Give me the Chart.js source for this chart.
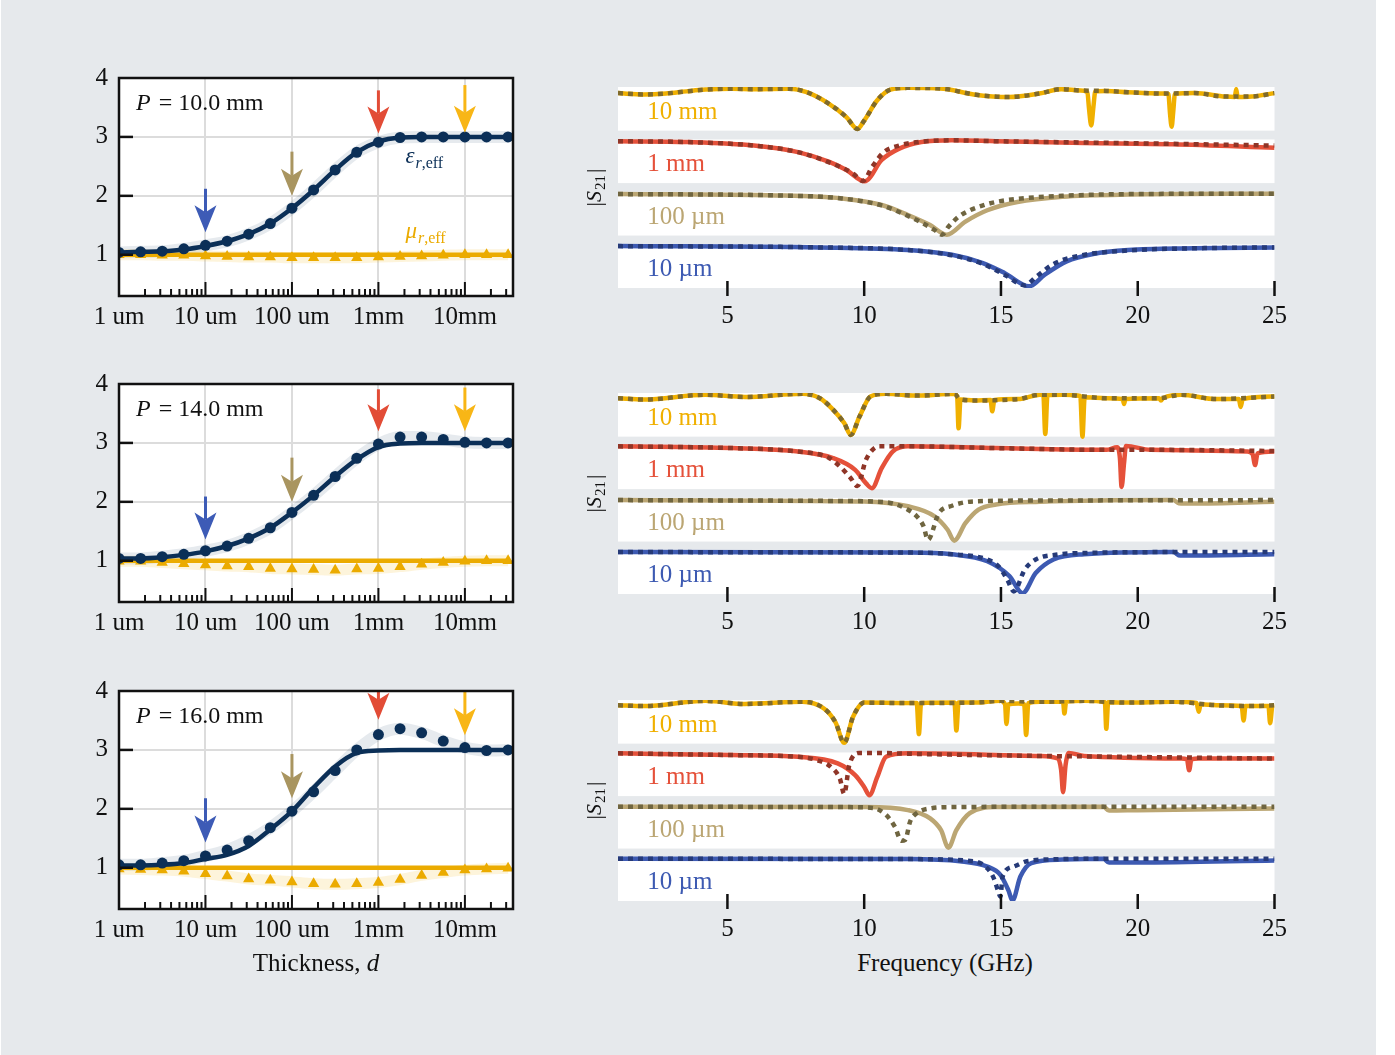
<!DOCTYPE html>
<html>
<head>
<meta charset="utf-8">
<script src="https://cdn.jsdelivr.net/npm/chart.js@4.4.1/dist/chart.umd.min.js"></script>
<style>
  body { margin: 0; background: #fff; width: 1395px; height: 1055px; position: relative; overflow: hidden; font-family: "Liberation Serif", serif; }
  #bg { position: absolute; left: 1px; top: 0; width: 1375px; height: 1055px; background: #e6e9ec; }
  .box { position: absolute; }
  .title { position: absolute; font-size: 25px; color: #111; transform: translateX(-50%); white-space: nowrap; }
</style>
</head>
<body>
<div id="bg"></div>

<div class="box" style="left:69px;top:52px;width:464px;height:289px"><canvas id="l10"></canvas></div>
<div class="box" style="left:69px;top:358px;width:464px;height:289px"><canvas id="l14"></canvas></div>
<div class="box" style="left:69px;top:665px;width:464px;height:289px"><canvas id="l16"></canvas></div>

<div class="box" style="left:570px;top:77px;width:730px;height:256px"><canvas id="r10"></canvas></div>
<div class="box" style="left:570px;top:383px;width:730px;height:256px"><canvas id="r14"></canvas></div>
<div class="box" style="left:570px;top:690px;width:730px;height:256px"><canvas id="r16"></canvas></div>

<div class="title" style="left:316px;top:949px">Thickness, <i>d</i></div>
<div class="title" style="left:945px;top:949px">Frequency (GHz)</div>

<script>
// ---------- left panels: effective parameters vs thickness ----------
const thickness = [1e-6, 1.78e-6, 3.16e-6, 5.62e-6, 1e-5, 1.78e-5, 3.16e-5, 5.62e-5, 1e-4,
  1.78e-4, 3.16e-4, 5.62e-4, 1e-3, 1.78e-3, 3.16e-3, 5.62e-3, 1e-2, 1.78e-2, 3.16e-2];
const decadeTicks = [1e-6, 1e-5, 1e-4, 1e-3, 1e-2];
const decadeLabels = ['1 um', '10 um', '100 um', '1mm', '10mm'];

const eps10    = [1.04, 1.05, 1.06, 1.10, 1.16, 1.23, 1.35, 1.53, 1.79, 2.10, 2.44, 2.74, 2.91, 2.99, 3.0, 3.0, 3.0, 3.0, 3.0];
const epsFit10 = [1.04, 1.05, 1.06, 1.09, 1.15, 1.23, 1.35, 1.53, 1.79, 2.10, 2.44, 2.74, 2.92, 2.99, 3.0, 3.0, 3.0, 3.0, 3.0];
const mu10     = [1.0, 1.0, 0.99, 0.99, 0.98, 0.97, 0.96, 0.96, 0.95, 0.95, 0.95, 0.95, 0.96, 0.97, 0.98, 0.99, 1.0, 1.0, 1.0];
const muFit10  = [1, 1, 1, 1, 1, 1, 1, 1, 1, 1, 1, 1, 1, 1, 1, 1, 1, 1, 1];

const eps14    = [1.04, 1.04, 1.07, 1.11, 1.17, 1.25, 1.38, 1.56, 1.82, 2.11, 2.43, 2.74, 2.98, 3.10, 3.10, 3.06, 3.01, 3.0, 3.0];
const epsFit14 = [1.04, 1.04, 1.06, 1.10, 1.16, 1.25, 1.38, 1.56, 1.82, 2.11, 2.43, 2.72, 2.93, 2.99, 3.0, 3.0, 3.0, 3.0, 3.0];
const mu14     = [0.99, 0.99, 0.97, 0.95, 0.93, 0.91, 0.90, 0.87, 0.86, 0.85, 0.84, 0.86, 0.87, 0.90, 0.94, 0.97, 0.99, 1.0, 1.0];
const muFit14  = [1, 1, 1, 1, 1, 1, 1, 1, 1, 1, 1, 1, 1, 1, 1, 1, 1, 1, 1];

const eps16    = [1.05, 1.05, 1.08, 1.12, 1.20, 1.30, 1.46, 1.68, 1.96, 2.29, 2.65, 3.00, 3.26, 3.36, 3.29, 3.15, 3.04, 2.99, 3.0];
const epsFit16 = [1.04, 1.04, 1.05, 1.08, 1.15, 1.22, 1.37, 1.65, 1.96, 2.36, 2.72, 2.95, 2.99, 3.0, 3.0, 3.0, 3.0, 3.0, 3.0];
const mu16     = [0.98, 0.97, 0.96, 0.94, 0.90, 0.86, 0.81, 0.79, 0.76, 0.73, 0.72, 0.73, 0.75, 0.80, 0.87, 0.92, 0.96, 0.98, 0.99];
const muFit16  = [1, 1, 1, 1, 1, 1, 1, 1, 1, 1, 1, 1, 1, 1, 1, 1, 1, 1, 1];

// arrows mark the four thicknesses shown on the right (10 um, 100 um, 1 mm, 10 mm)
const arrowAt = [1e-5, 1e-4, 1e-3, 1e-2];
const arrowTop10 = [2.12, 2.75, 3.79, 3.88], arrowTip10 = [1.38, 2.0, 3.06, 3.07];
const arrowTop14 = [2.09, 2.75, 3.91, 3.94], arrowTip14 = [1.36, 2.0, 3.20, 3.20];
const arrowTop16 = [2.18, 2.93, 4.05, 4.05], arrowTip16 = [1.43, 2.18, 3.51, 3.25];

// ---------- right panels: |S21| traces, [GHz, normalised |S21|] ----------
const freqTicks = [5, 10, 15, 20, 25];
const traceNames = ['10 µm', '100 µm', '1 mm', '10 mm'];   // bottom to top

const p10_10um = [[1,0.96],[8.38,0.93],[11.6,0.87],[13.21,0.76],[14.34,0.57],[15.14,0.34],[16.03,0.04],[16.59,0.30],[17.4,0.61],[18.37,0.78],[19.65,0.87],[22.07,0.91],[25,0.93]];
const p10_10um_m = [[1,0.96],[8.38,0.93],[11.6,0.87],[13.21,0.75],[14.34,0.55],[15.14,0.30],[15.87,0.06],[16.27,0.25],[16.92,0.55],[17.88,0.74],[19.65,0.86],[22.07,0.91],[25,0.93]];
const p10_100um = [[1,0.95],[6.77,0.92],[9.19,0.85],[10.64,0.70],[11.6,0.47],[12.41,0.24],[13.02,0.02],[13.7,0.32],[14.5,0.58],[15.6,0.77],[17.24,0.89],[19.65,0.94],[25,0.96]];
const p10_100um_m = [[1,0.95],[6.77,0.92],[9.19,0.85],[10.64,0.69],[11.6,0.45],[12.09,0.3],[12.57,0.13],[12.85,0.02],[13.08,0.2],[13.45,0.43],[13.86,0.58],[14.34,0.69],[14.82,0.77],[15.6,0.84],[17.24,0.91],[19.65,0.95],[25,0.96]];
const p10_1mm = [[1,0.96],[3.55,0.94],[5.97,0.86],[7.58,0.71],[8.7,0.49],[9.35,0.30],[10.02,0.04],[10.64,0.53],[11.28,0.79],[12.09,0.94],[13.21,0.98],[14.82,0.96],[18.04,0.92],[21.26,0.89],[25,0.81]];
const p10_1mm_m = [[1,0.96],[3.55,0.94],[5.97,0.86],[7.58,0.71],[8.7,0.48],[9.59,0.22],[9.95,0.05],[10.3,0.38],[10.72,0.71],[11.28,0.86],[12.09,0.95],[13.21,0.98],[14.82,0.96],[18.04,0.93],[21.26,0.9],[25,0.86]];
const p10_10mm = [[1,0.86],[1.94,0.83],[2.75,0.85],[3.5,0.90],[4.19,0.94],[5.16,0.96],[5.97,0.95],[7.25,0.96],[7.9,0.88],[8.7,0.62],[9.35,0.31],[9.75,0.04],[10.0,0.23],[10.47,0.69],[10.96,0.94],[11.6,0.98],[12.9,0.96],[14.0,0.83],[15.3,0.77],[16.4,0.85],[17.2,0.95],[17.9,0.92],[18.16,0.88],[18.22,0.5],[18.3,0.12],[18.38,0.55],[18.45,0.9],[18.85,0.91],[19.65,0.88],[20.94,0.85],[21.12,0.84],[21.18,0.4],[21.24,0.09],[21.3,0.45],[21.36,0.84],[22.07,0.86],[23.2,0.78],[23.55,0.77],[23.6,0.95],[23.65,0.77],[24.16,0.78],[25,0.86]];
const p10_10mm_m = [[1,0.86],[1.94,0.83],[2.75,0.85],[3.5,0.90],[4.19,0.94],[5.16,0.96],[5.97,0.95],[7.25,0.96],[7.9,0.88],[8.7,0.62],[9.35,0.31],[9.75,0.04],[10.0,0.23],[10.47,0.69],[10.96,0.94],[11.6,0.98],[12.9,0.96],[14.0,0.83],[15.3,0.77],[16.4,0.85],[17.2,0.95],[17.9,0.92],[18.85,0.91],[19.65,0.88],[20.94,0.85],[22.07,0.86],[23.2,0.78],[24.16,0.78],[25,0.86]];

const p14_10um = [[1,0.96],[11.6,0.95],[13.21,0.91],[14.5,0.75],[15.31,0.41],[15.79,0.02],[16.27,0.48],[16.92,0.79],[18.04,0.91],[21.3,0.96],[21.55,0.88],[22.0,0.88],[25,0.91]];
const p14_10um_m = [[1,0.96],[11.6,0.95],[13.21,0.91],[14.5,0.79],[14.9,0.64],[15.23,0.33],[15.47,0.06],[15.87,0.56],[16.27,0.79],[17.0,0.9],[18.04,0.94],[21.3,0.96],[25,0.96]];
const p14_100um = [[1,0.95],[10.0,0.92],[11.6,0.81],[12.57,0.58],[13.05,0.27],[13.29,0.02],[13.7,0.42],[14.18,0.73],[14.82,0.85],[16.43,0.91],[21.3,0.95],[21.5,0.88],[22.0,0.87],[25,0.91]];
const p14_100um_m = [[1,0.95],[9.19,0.93],[10.8,0.9],[11.6,0.73],[11.92,0.58],[12.17,0.35],[12.33,0.04],[12.73,0.65],[13.21,0.82],[14.02,0.92],[16.43,0.94],[25,0.95]];
const p14_1mm = [[1,0.98],[5.16,0.94],[7.58,0.86],[8.86,0.71],[9.67,0.44],[10.07,0.13],[10.28,0.02],[10.64,0.48],[11.04,0.86],[11.6,0.98],[14.82,0.94],[18.85,0.90],[19.25,0.96],[19.35,0.7],[19.41,0.05],[19.5,0.6],[19.57,0.99],[20.46,0.9],[24.0,0.86],[24.2,0.8],[24.29,0.55],[24.38,0.82],[25,0.86]];
const p14_1mm_m = [[1,0.98],[5.16,0.94],[7.58,0.86],[8.7,0.72],[9.11,0.52],[9.51,0.25],[9.75,0.07],[10.07,0.68],[10.56,0.98],[11.6,0.98],[14.82,0.94],[18.85,0.90],[20.46,0.9],[24.0,0.88],[25,0.87]];
const p14_10mm = [[1,0.88],[1.94,0.85],[4.19,0.96],[5.64,0.91],[7.74,0.98],[8.38,0.88],[8.86,0.62],[9.27,0.31],[9.51,0.04],[9.83,0.46],[10.23,0.92],[10.8,0.98],[11.92,0.94],[13.3,0.98],[13.4,0.9],[13.45,0.19],[13.52,0.85],[14.02,0.83],[14.62,0.84],[14.68,0.58],[14.76,0.84],[15.63,0.86],[16.43,0.96],[16.55,0.95],[16.62,0.06],[16.7,0.95],[17.24,0.96],[17.9,0.93],[17.98,0.0],[18.06,0.9],[18.85,0.88],[19.45,0.86],[19.5,0.75],[19.55,0.86],[20.78,0.88],[20.85,0.83],[20.92,0.88],[21.59,0.96],[22.87,0.86],[23.7,0.86],[23.76,0.68],[23.84,0.86],[25,0.92]];
const p14_10mm_m = [[1,0.88],[1.94,0.85],[4.19,0.96],[5.64,0.91],[7.74,0.98],[8.38,0.88],[8.86,0.62],[9.27,0.31],[9.51,0.04],[9.83,0.46],[10.23,0.92],[10.8,0.98],[11.92,0.94],[13.3,0.98],[13.5,0.86],[14.02,0.83],[15.63,0.86],[16.43,0.96],[17.24,0.96],[18.85,0.88],[20.78,0.88],[21.59,0.96],[22.87,0.86],[25,0.92]];

const p16_10um = [[1,0.97],[11.6,0.96],[13.5,0.91],[14.5,0.79],[14.98,0.6],[15.27,0.25],[15.42,0.01],[15.71,0.56],[16.11,0.87],[17.24,0.95],[18.75,0.97],[18.95,0.88],[20.0,0.88],[25,0.93]];
const p16_10um_m = [[1,0.97],[11.6,0.96],[14.02,0.91],[14.5,0.75],[14.74,0.52],[14.9,0.22],[14.98,0.1],[15.06,0.56],[15.47,0.79],[15.95,0.91],[17.24,0.96],[18.85,0.97],[25,0.97]];
const p16_100um = [[1,0.96],[10.0,0.95],[11.6,0.88],[12.41,0.69],[12.81,0.42],[13.08,0.02],[13.37,0.42],[13.86,0.81],[14.82,0.95],[18.75,0.96],[18.95,0.87],[20.0,0.88],[25,0.92]];
const p16_100um_m = [[1,0.96],[9.19,0.95],[10.31,0.93],[10.8,0.77],[11.12,0.50],[11.36,0.18],[11.5,0.2],[11.68,0.62],[11.92,0.81],[12.41,0.92],[13.21,0.95],[18.85,0.96],[25,0.96]];
const p16_1mm = [[1,0.98],[5.16,0.94],[7.58,0.90],[9.03,0.75],[9.67,0.48],[10.0,0.21],[10.19,0.02],[10.48,0.44],[10.8,0.9],[11.6,0.98],[16.43,0.92],[17.08,0.86],[17.2,0.6],[17.27,0.09],[17.36,0.7],[17.48,0.99],[18.04,0.92],[21.59,0.86],[21.8,0.84],[21.88,0.59],[21.96,0.84],[22.23,0.86],[25,0.86]];
const p16_1mm_m = [[1,0.98],[5.16,0.94],[7.58,0.9],[8.3,0.82],[8.78,0.67],[9.11,0.40],[9.27,0.05],[9.45,0.7],[9.83,0.99],[10.48,0.99],[11.6,0.97],[16.43,0.92],[18.04,0.91],[25,0.86]];
const p16_10mm = [[1,0.88],[1.94,0.86],[4.19,0.98],[5.64,0.91],[7.74,0.96],[8.54,0.80],[8.95,0.49],[9.27,0.02],[9.59,0.61],[10.0,0.94],[11.6,0.93],[11.92,0.93],[12.0,0.22],[12.08,0.93],[13.3,0.94],[13.37,0.30],[13.45,0.94],[14.02,0.94],[14.98,0.98],[15.15,0.9],[15.2,0.45],[15.27,0.9],[15.63,0.92],[15.85,0.9],[15.92,0.20],[16.0,0.93],[16.43,0.96],[17.27,0.96],[17.32,0.69],[17.38,0.96],[18.04,0.98],[18.8,0.95],[18.85,0.34],[18.92,0.95],[19.65,0.94],[21.3,0.96],[22.15,0.93],[22.23,0.73],[22.3,0.9],[22.87,0.88],[23.8,0.86],[23.87,0.53],[23.94,0.86],[24.16,0.86],[24.78,0.86],[24.84,0.47],[24.92,0.85],[25,0.88]];
const p16_10mm_m = [[1,0.88],[1.94,0.86],[4.19,0.98],[5.64,0.91],[7.74,0.96],[8.54,0.80],[8.95,0.49],[9.27,0.02],[9.59,0.61],[10.0,0.94],[11.6,0.93],[14.02,0.94],[14.98,0.98],[16.43,0.96],[18.04,0.98],[19.65,0.94],[21.3,0.96],[22.87,0.88],[24.16,0.86],[25,0.88]];

// ---------- styling ----------
const SERIF = '"Liberation Serif", "DejaVu Serif", serif';
const NAVY = '#0b2f57';
const GOLD = '#ebab00';
const GRID = '#dcdcdc';
const INK = '#111';
const arrowColors = ['#3d5bb6', '#a99560', '#e24c36', '#f8b616'];
const traceColors = ['#3d5ab2', '#bba673', '#e5513a', '#f0b000'];
const modelColors = ['#263a78', '#6f6540', '#8f3527', '#7f6a2c'];
const STRIP_H = 0.832;

Chart.defaults.font.family = SERIF;
Chart.defaults.color = INK;

function drawArrow(ctx, x, yTop, yTip, color) {
  const head = 27, half = 11, notch = 7;
  ctx.strokeStyle = color;
  ctx.fillStyle = color;
  ctx.lineWidth = 3;
  ctx.beginPath();
  ctx.moveTo(x, yTop);
  ctx.lineTo(x, yTip - head + notch);
  ctx.stroke();
  ctx.beginPath();
  ctx.moveTo(x, yTip);
  ctx.lineTo(x - half, yTip - head);
  ctx.lineTo(x, yTip - head + notch);
  ctx.lineTo(x + half, yTip - head);
  ctx.closePath();
  ctx.fill();
}

// symbol with italic main letter and a small subscript
function drawSub(ctx, x, y, main, subItalic, subRest, color, size) {
  ctx.fillStyle = color;
  ctx.textBaseline = 'alphabetic';
  ctx.font = `italic ${size}px ${SERIF}`;
  ctx.fillText(main, x, y);
  x += ctx.measureText(main).width + 1;
  const s = Math.round(size * 0.68);
  ctx.font = `italic ${s}px ${SERIF}`;
  ctx.fillText(subItalic, x, y + 5);
  x += ctx.measureText(subItalic).width;
  ctx.font = `${s}px ${SERIF}`;
  ctx.fillText(subRest, x, y + 5);
}

const leftDeco = {
  id: 'leftDeco',
  beforeDraw(chart) {
    const { ctx, chartArea: a } = chart;
    ctx.save();
    ctx.fillStyle = '#fff';
    ctx.fillRect(a.left, a.top, a.right - a.left, a.bottom - a.top);
    ctx.restore();
  },
  afterDatasetsDraw(chart, args, opts) {
    const { ctx, chartArea: a, scales: { x, y } } = chart;
    ctx.save();
    ctx.beginPath();
    ctx.rect(a.left, a.top, a.right - a.left, a.bottom - a.top);
    ctx.clip();
    arrowAt.forEach((v, i) => {
      drawArrow(ctx, x.getPixelForValue(v), y.getPixelForValue(opts.tops[i]),
        y.getPixelForValue(opts.tips[i]), arrowColors[i]);
    });
    ctx.restore();
  },
  afterDraw(chart, args, opts) {
    const { ctx, chartArea: a, scales: { x, y } } = chart;
    ctx.save();
    ctx.strokeStyle = INK;
    // inward ticks
    ctx.lineWidth = 2;
    x.ticks.forEach(t => {
      const px = x.getPixelForValue(t.value);
      if (px <= a.left + 1) return;
      const len = t.major ? 14 : 7;
      ctx.beginPath();
      ctx.moveTo(px, a.bottom);
      ctx.lineTo(px, a.bottom - len);
      ctx.stroke();
    });
    ctx.lineWidth = 2.5;
    [1, 2, 3].forEach(v => {
      const py = y.getPixelForValue(v);
      ctx.beginPath();
      ctx.moveTo(a.left, py);
      ctx.lineTo(a.left + 14, py);
      ctx.stroke();
    });
    ctx.lineWidth = 2.5;
    ctx.strokeRect(a.left, a.top, a.right - a.left, a.bottom - a.top);

    // P = ... label
    ctx.fillStyle = INK;
    ctx.textBaseline = 'middle';
    ctx.font = `italic 24px ${SERIF}`;
    const px0 = a.left + 17, py0 = a.top + 26;
    ctx.fillText('P', px0, py0);
    const w = ctx.measureText('P').width;
    ctx.font = `24px ${SERIF}`;
    ctx.fillText(' = ' + opts.label, px0 + w + 2, py0);

    if (opts.names) {
      drawSub(ctx, x.getPixelForValue(2.05e-3), y.getPixelForValue(2.55), 'ε', 'r', ',eff', NAVY, 23);
      drawSub(ctx, x.getPixelForValue(2.05e-3), y.getPixelForValue(1.28), 'μ', 'r', ',eff', GOLD, 23);
    }
    ctx.restore();
  }
};

function pairs(xs, ys) {
  return xs.map((v, i) => ({ x: v, y: ys[i] }));
}

function makeLeft(id, eps, epsFit, mu, muFit, tops, tips, label, names) {
  const xTicks = [];
  decadeTicks.forEach(d => {
    for (let m = 1; m <= 9; m++) {
      const v = d * m;
      if (v <= 3.6e-2) xTicks.push({ value: v, major: m === 1 });
    }
  });
  new Chart(document.getElementById(id), {
    type: 'line',
    data: {
      datasets: [
        { data: pairs(thickness, eps), borderColor: 'rgba(11,47,87,0.10)', borderWidth: 12, pointRadius: 0, cubicInterpolationMode: 'monotone', order: 6 },
        { data: pairs(thickness, mu), borderColor: 'rgba(240,176,0,0.14)', borderWidth: 11, pointRadius: 0, cubicInterpolationMode: 'monotone', order: 5 },
        { data: pairs(thickness, muFit), borderColor: GOLD, borderWidth: 4.5, pointRadius: 0, order: 4 },
        { data: pairs(thickness, epsFit), borderColor: NAVY, borderWidth: 4.5, pointRadius: 0, cubicInterpolationMode: 'monotone', order: 3 },
        { data: pairs(thickness, mu), showLine: false, pointStyle: 'triangle', pointRadius: 6.5, backgroundColor: GOLD, borderWidth: 0, order: 2 },
        { data: pairs(thickness, eps), showLine: false, pointRadius: 5.5, backgroundColor: NAVY, borderWidth: 0, order: 1 }
      ]
    },
    options: {
      animation: false,
      responsive: true,
      maintainAspectRatio: false,
      layout: { padding: { left: 10, top: 16, right: 20, bottom: 0 } },
      plugins: {
        legend: { display: false },
        tooltip: { enabled: false },
        leftDeco: { tops, tips, label, names }
      },
      scales: {
        x: {
          type: 'logarithmic',
          min: 1e-6,
          max: 3.6e-2,
          afterBuildTicks: s => { s.ticks = xTicks.map(t => ({ ...t })); },
          afterFit: s => { s.height = 45; },
          ticks: {
            autoSkip: false, maxRotation: 0, padding: 6,
            font: { size: 25 }, color: INK,
            callback: function (v) {
              const i = decadeTicks.findIndex(d => Math.abs(d - v) / d < 1e-6);
              return i >= 0 ? decadeLabels[i] : '';
            }
          },
          grid: {
            drawTicks: false, lineWidth: 2,
            color: c => (c.tick && c.tick.major ? GRID : 'rgba(0,0,0,0)')
          },
          border: { display: false }
        },
        y: {
          min: 0.3,
          max: 4,
          afterBuildTicks: s => { s.ticks = [1, 2, 3, 4].map(v => ({ value: v })); },
          afterFit: s => { s.width = 40; },
          ticks: { padding: 11, font: { size: 25 }, color: INK },
          grid: { drawTicks: false, lineWidth: 2, color: GRID },
          border: { display: false }
        }
      }
    },
    plugins: [leftDeco]
  });
}

makeLeft('l10', eps10, epsFit10, mu10, muFit10, arrowTop10, arrowTip10, '10.0 mm', true);
makeLeft('l14', eps14, epsFit14, mu14, muFit14, arrowTop14, arrowTip14, '14.0 mm', false);
makeLeft('l16', eps16, epsFit16, mu16, muFit16, arrowTop16, arrowTip16, '16.0 mm', false);

// ---------- right panels ----------
const rightDeco = {
  id: 'rightDeco',
  beforeDatasetsDraw(chart) {
    const { ctx, chartArea: a, scales: { y } } = chart;
    ctx.save();
    ctx.fillStyle = '#fff';
    [0, 1, 2, 3].forEach(k => {
      const t = y.getPixelForValue(k + STRIP_H), b = y.getPixelForValue(k);
      ctx.fillRect(a.left, t, a.right - a.left, b - t);
    });
    ctx.restore();
  },
  afterDatasetsDraw(chart) {
    const { ctx, chartArea: a, scales: { x, y } } = chart;
    ctx.save();
    ctx.font = `25px ${SERIF}`;
    ctx.textBaseline = 'middle';
    traceNames.forEach((n, k) => {
      ctx.fillStyle = traceColors[k];
      ctx.fillText(n, x.getPixelForValue(2.07), y.getPixelForValue(k + STRIP_H * 0.42));
    });
    // in-out ticks
    ctx.strokeStyle = INK;
    ctx.lineWidth = 2.5;
    freqTicks.forEach(f => {
      const px = x.getPixelForValue(f);
      ctx.beginPath();
      ctx.moveTo(px, a.bottom - 7);
      ctx.lineTo(px, a.bottom + 8);
      ctx.stroke();
    });
    // |S21| axis label
    ctx.translate(a.left - 23, (a.top + a.bottom) / 2);
    ctx.rotate(-Math.PI / 2);
    ctx.fillStyle = INK;
    ctx.textBaseline = 'middle';
    ctx.font = `22px ${SERIF}`;
    const bar = ctx.measureText('|').width;
    ctx.font = `italic 22px ${SERIF}`;
    const sw = ctx.measureText('S').width;
    ctx.font = `15px ${SERIF}`;
    const nw = ctx.measureText('21').width;
    let xx = -(bar * 2 + sw + nw + 3) / 2;
    ctx.font = `22px ${SERIF}`;
    ctx.fillText('|', xx, 0); xx += bar;
    ctx.font = `italic 22px ${SERIF}`;
    ctx.fillText('S', xx, 0); xx += sw + 1;
    ctx.font = `15px ${SERIF}`;
    ctx.fillText('21', xx, 6); xx += nw + 2;
    ctx.font = `22px ${SERIF}`;
    ctx.fillText('|', xx, 0);
    ctx.restore();
  }
};

function stack(arr, k) {
  return arr.map(p => ({ x: p[0], y: k + STRIP_H * p[1] }));
}

function makeRight(id, sims, models) {
  const datasets = [];
  sims.forEach((s, k) => {
    datasets.push({ data: stack(s, k), borderColor: traceColors[k], borderWidth: 4.5, pointRadius: 0, cubicInterpolationMode: 'monotone', order: 10 - k });
  });
  models.forEach((m, k) => {
    datasets.push({ data: stack(m, k), borderColor: modelColors[k], borderWidth: 4.5, borderDash: [5, 5], borderCapStyle: 'butt', pointRadius: 0, cubicInterpolationMode: 'monotone', order: 5 - k });
  });
  new Chart(document.getElementById(id), {
    type: 'line',
    data: { datasets },
    options: {
      animation: false,
      responsive: true,
      maintainAspectRatio: false,
      layout: { padding: { left: 48, top: 10, right: 22, bottom: 0 } },
      plugins: { legend: { display: false }, tooltip: { enabled: false } },
      scales: {
        x: {
          type: 'linear', min: 1, max: 25,
          afterBuildTicks: s => { s.ticks = freqTicks.map(v => ({ value: v })); },
          afterFit: s => { s.height = 45; },
          ticks: { padding: 13, font: { size: 25 }, color: INK, maxRotation: 0, autoSkip: false },
          grid: { display: false, drawTicks: false },
          border: { display: false }
        },
        y: { display: false, min: 0, max: 3 + STRIP_H }
      }
    },
    plugins: [rightDeco]
  });
}

makeRight('r10', [p10_10um, p10_100um, p10_1mm, p10_10mm], [p10_10um_m, p10_100um_m, p10_1mm_m, p10_10mm_m]);
makeRight('r14', [p14_10um, p14_100um, p14_1mm, p14_10mm], [p14_10um_m, p14_100um_m, p14_1mm_m, p14_10mm_m]);
makeRight('r16', [p16_10um, p16_100um, p16_1mm, p16_10mm], [p16_10um_m, p16_100um_m, p16_1mm_m, p16_10mm_m]);
</script>
</body>
</html>
